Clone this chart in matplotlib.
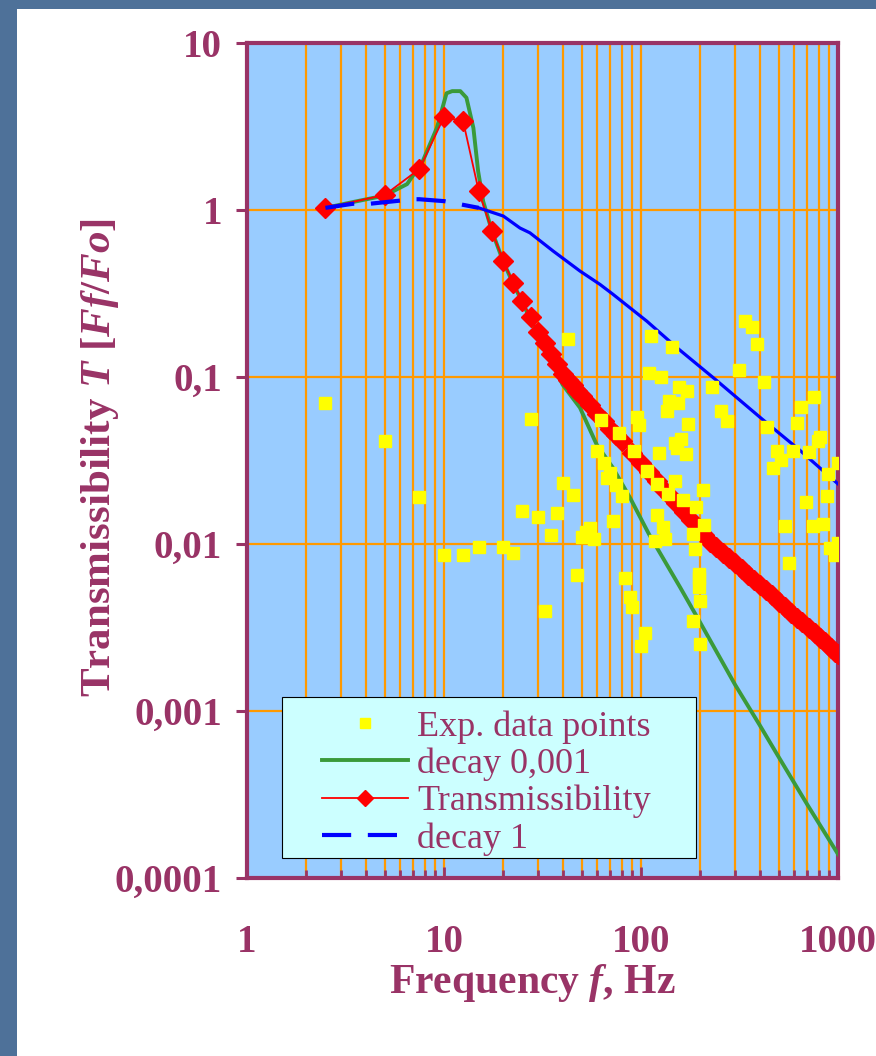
import matplotlib
matplotlib.use("Agg")
import matplotlib.pyplot as plt
from matplotlib.patches import Rectangle
from matplotlib.ticker import LogLocator, FixedLocator, NullLocator, NullFormatter

plt.rcParams['font.family'] = ['Liberation Serif', 'DejaVu Serif']
plt.rcParams['mathtext.fontset'] = 'custom'
plt.rcParams['mathtext.rm'] = 'Liberation Serif:bold'
plt.rcParams['mathtext.it'] = 'Liberation Serif:italic:bold'
plt.rcParams['mathtext.bf'] = 'Liberation Serif:bold'

MAROON = '#993366'

# --- data (Hz, Ff/Fo) ---
exp_f = [2.5, 5, 7.5, 10, 12.5, 15, 20, 22.5, 25, 27.5, 30, 32.5, 35, 37.5, 40,
         42.5, 45, 47.5, 50, 52.5, 55, 57.5, 60, 62.5, 65, 67.5, 70, 72.5, 75,
         77.5, 80, 82.5, 87.5, 90, 92.5, 95, 97.5, 100, 105, 107, 110, 112,
         118, 121, 121, 123, 126, 130, 132, 135, 137, 138, 143, 149, 149, 152,
         155, 156, 159, 163, 169, 172, 174, 183, 184, 188, 191, 197, 197, 197,
         200, 200, 207, 210, 228, 254, 273, 316, 339, 364, 386, 419, 437, 467,
         490, 516, 540, 565, 593, 622, 648, 685, 711, 743, 751, 788, 815, 835,
         877, 894, 912, 966, 1000, 1000]
exp_t = [0.0696, 0.0412, 0.0190, 0.00855, 0.00855, 0.00955, 0.00955, 0.00887,
         0.0158, 0.0558, 0.0145, 0.00399, 0.01128, 0.01534, 0.0232, 0.170,
         0.0197, 0.00649, 0.0110, 0.01185, 0.01253, 0.01067, 0.0360, 0.0550,
         0.0305, 0.0249, 0.0266, 0.01374, 0.0225, 0.0462, 0.0193, 0.00628,
         0.00482, 0.0042, 0.0360, 0.0576, 0.0514, 0.00246, 0.00293, 0.0274,
         0.106, 0.175, 0.01042, 0.0149, 0.0230, 0.0349, 0.100, 0.01264,
         0.01067, 0.0626, 0.0200, 0.0718, 0.151, 0.0403, 0.0238, 0.0377,
         0.0699, 0.0871, 0.0425, 0.0183, 0.0347, 0.0824, 0.0525, 0.00346,
         0.01143, 0.00933, 0.01667, 0.00628, 0.00662, 0.00552, 0.00456,
         0.00253, 0.0211, 0.0130, 0.0871, 0.0626, 0.0545, 0.110, 0.217, 0.198,
         0.158, 0.0929, 0.0502, 0.0287, 0.0359, 0.0318, 0.01276, 0.0077,
         0.0359, 0.0531, 0.0664, 0.0178, 0.0356, 0.01276, 0.0764, 0.0413,
         0.0437, 0.0131, 0.0194, 0.0264, 0.00947, 0.00855, 0.0101, 0.0305]

green_f = [2.5, 3.5, 5, 6.5, 7.8, 9.2, 10.3, 11, 12.1, 13, 14.1, 14.9, 15.8,
           17.5, 20, 22.5, 25, 27.5, 30, 35, 40, 49, 59.5, 72, 88, 110, 158,
           195, 300, 400, 500, 700, 1000]
green_t = [1.03, 1.12, 1.22, 1.43, 1.96, 3.1, 5.0, 5.15, 5.15, 4.7, 3.1, 1.71,
           1.13, 0.75, 0.49, 0.36, 0.28, 0.22, 0.18, 0.125, 0.09, 0.0655,
           0.0395, 0.0286, 0.0189, 0.0114, 0.0055, 0.00356, 0.00144, 0.000825,
           0.00053, 0.000274, 0.000139]

red_f = [2.5, 5, 7.5, 10, 12.5, 15, 17.5, 20, 22.5, 25, 27.5, 30, 32.5, 35,
         37.5, 40, 42.5, 45, 47.5, 50, 55, 60, 65, 70, 75, 80, 90, 100, 110,
         120, 130, 140, 150, 165, 180, 195, 210, 225, 240, 260, 280, 300, 325,
         350, 375, 400, 430, 460, 500, 540, 580, 620, 660, 710, 760, 810, 860,
         920, 970, 1000]
red_t = [1.03, 1.23, 1.76, 3.6, 3.41, 1.30, 0.75, 0.495, 0.366, 0.285, 0.229,
         0.187, 0.159, 0.138, 0.120, 0.104, 0.096, 0.089, 0.0826, 0.0771,
         0.0679, 0.0604, 0.0542, 0.0491, 0.0448, 0.0411, 0.0351, 0.0305,
         0.0269, 0.0239, 0.0214, 0.0194, 0.0177, 0.0156, 0.0139, 0.0124,
         0.0113, 0.0103, 0.00966, 0.00889, 0.00823, 0.00766, 0.00705, 0.00653,
         0.00608, 0.00569, 0.00527, 0.00492, 0.00451, 0.00417, 0.00387,
         0.00361, 0.00339, 0.00314, 0.00292, 0.00274, 0.00258, 0.00240,
         0.00227, 0.0022]

blue_f = [2.5, 3.45, 4.2, 7, 7.5, 10, 15, 20, 24.3, 27.3, 35.8, 49, 62, 72,
          107, 152, 237, 414, 637, 1000]
blue_t = [1.03, 1.09, 1.09, 1.16, 1.16, 1.13, 1.03, 0.92, 0.78, 0.73, 0.568,
          0.431, 0.358, 0.313, 0.216, 0.150, 0.0973, 0.0557, 0.0366, 0.0229]
blue_dash_n = 7  # sparse first points appear dashed

x_ticks = [1, 10, 100, 1000]
x_labels = ['1', '10', '100', '1000']
y_ticks = [0.0001, 0.001, 0.01, 0.1, 1, 10]
y_labels = ['0,0001', '0,001', '0,01', '0,1', '1', '10']

legend_labels = ['Exp. data points', 'decay 0,001', 'Transmissibility', 'decay 1']

# --- figure ---
W, H = 876, 1056
fig = plt.figure(figsize=(W / 100, H / 100), dpi=100)
fig.patch.set_facecolor('#4E7199')
fig.add_artist(Rectangle((17 / W, 0), 1 - 17 / W, 1 - 9 / H,
                         transform=fig.transFigure, facecolor='white',
                         edgecolor='none', zorder=0))

ax = fig.add_axes([247 / W, 178 / H, 591 / W, 835 / H])
ax.set_facecolor('#99CCFF')
ax.set_xscale('log')
ax.set_yscale('log')
ax.set_xlim(1, 1000)
ax.set_ylim(0.0001, 10)

g, = ax.plot(green_f, green_t, color='#3A9A3A', lw=2.8, zorder=3)
r, = ax.plot(red_f, red_t, color='red', lw=1.3, marker='D', ms=10,
             mec='red', zorder=4)
b, = ax.plot(blue_f[:blue_dash_n], blue_t[:blue_dash_n], color='#0000FF',
             lw=3, dashes=(7, 4), zorder=4.5)
ax.plot(blue_f[blue_dash_n - 1:], blue_t[blue_dash_n - 1:], color='#0000FF',
        lw=2.3, zorder=4.5)
y, = ax.plot(exp_f, exp_t, ls='none', marker='s', ms=8.8, color='#FFFF00',
             mec='#FFFF00', zorder=4.8)

# grid
ax.set_axisbelow(True)
ax.xaxis.set_major_locator(FixedLocator(x_ticks))
ax.xaxis.set_minor_locator(LogLocator(base=10, subs=range(2, 10)))
ax.xaxis.set_minor_formatter(NullFormatter())
ax.set_xticklabels(x_labels)
ax.yaxis.set_major_locator(FixedLocator(y_ticks))
ax.yaxis.set_minor_locator(NullLocator())
ax.set_yticklabels(y_labels)
ax.grid(True, which='both', axis='x', color='#FF9900', lw=1.6)
ax.grid(True, which='major', axis='y', color='#FF9900', lw=1.6)

for s in ax.spines.values():
    s.set_color(MAROON)
    s.set_linewidth(3)
ax.tick_params(axis='x', which='major', direction='in', length=8, width=2,
               color=MAROON, pad=33)
ax.tick_params(axis='x', which='minor', direction='in', length=6, width=2,
               color=MAROON)
ax.tick_params(axis='y', which='major', direction='out', length=8, width=2.2,
               color=MAROON, pad=10)
for lab in ax.get_xticklabels() + ax.get_yticklabels():
    lab.set_fontsize(28)
    lab.set_fontweight('bold')
    lab.set_color(MAROON)

ax.set_xlabel(r'Frequency $f$, Hz', fontsize=30, fontweight='bold',
              color=MAROON, va='center')
ax.xaxis.set_label_coords(0.482, -0.126)
ax.set_ylabel(r'Transmissibility $T$ [$Ff/Fo$]', fontsize=31,
              fontweight='bold', color=MAROON, va='center')
ax.yaxis.set_label_coords(-0.249, 0.504)

# legend box
ax.add_patch(Rectangle(((282 - 247) / 591, (878 - 858) / 835),
                       (696 - 282) / 591, (858 - 697) / 835,
                       transform=ax.transAxes, facecolor='#CCFFFF',
                       edgecolor='black', lw=0.8, zorder=6))
leg = ax.legend([y, g, r, b], legend_labels, loc='upper left',
                bbox_to_anchor=((322 - 247) / 591, (878 - 710) / 835),
                frameon=False, borderpad=0, borderaxespad=0,
                handlelength=2.38, handletextpad=0.26, labelspacing=0.11,
                markerscale=0.85,
                prop={'family': 'Liberation Serif', 'size': 26},
                labelcolor=MAROON)
leg.set_zorder(7)

fig.savefig('out.png', dpi=100, facecolor=fig.get_facecolor())
